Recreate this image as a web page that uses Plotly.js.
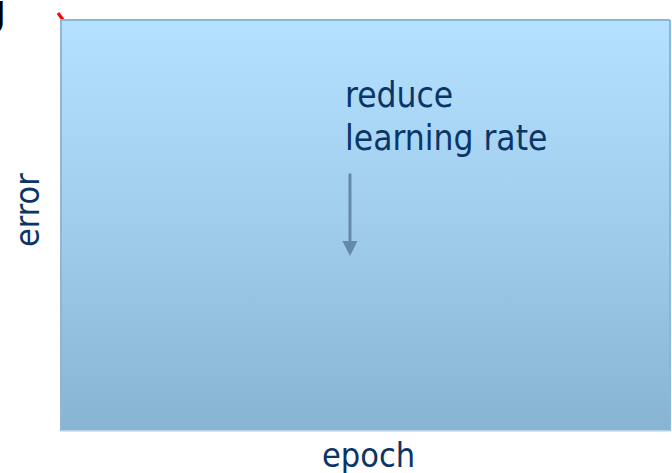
<!DOCTYPE html>
<html>
<head>
<meta charset="utf-8">
<script src="https://cdn.plot.ly/plotly-3.0.1.min.js"></script>
<style>html,body{margin:0;padding:0;background:#fff;}#chart{width:672px;height:473px;}</style>
</head>
<body>
<div id="chart"></div>
<script>
// Axis labels and annotation text
var xTitle = "epoch";
var yTitle = "error";
var noteLines = ["reduce", "learning rate"];
// Frame of the chart area (data units)
var frameX = [0, 10];
var frameY = [0, 10];
// Visible start of the (red) error curve, leaving the top of the frame
var curveX = [-0.05, 0.035];
var curveY = [10.17, 10.0];
// Arrow (data units): tail and head
var arrowX = [4.745, 4.745];
var arrowY = [6.3, 4.26];

var W = 672, H = 473;
// full-figure plotting area; the frame sits inside it
var pxPerX = 60.9, pxPerY = 41.1;
var frameLeftPx = 61, frameBottomPx = 431;

var grad = '<svg xmlns="http://www.w3.org/2000/svg" width="100" height="100" preserveAspectRatio="none">' +
  '<defs><linearGradient id="g" x1="0" y1="0" x2="0" y2="1">' +
  '<stop offset="0" stop-color="#b4e1fe"/><stop offset="0.5" stop-color="#a0cdec"/>' +
  '<stop offset="1" stop-color="#87b4d3"/></linearGradient></defs>' +
  '<rect width="100" height="100" fill="url(#g)"/></svg>';
var gradUri = 'data:image/svg+xml;charset=utf-8,' + encodeURIComponent(grad);

var traces = [{
  x: curveX, y: curveY, type: 'scatter', mode: 'lines',
  line: {color: '#ff0000', width: 3},
  hoverinfo: 'skip', showlegend: false
}];

var navy = '#0b3567';
var font = '"DejaVu Sans Condensed", "DejaVu Sans", sans-serif';
var borderCol = '#8db7d6';

var xr = [-frameLeftPx / pxPerX, (W - frameLeftPx) / pxPerX];
var yr = [-(H - frameBottomPx) / pxPerY, frameBottomPx / pxPerY];

var noteTops = [73, 116];
var noteAnns = noteLines.map(function (t, i) {
  return {text: t, xref: 'paper', yref: 'paper',
    x: 343 / W, y: 1 - noteTops[i] / H,
    xanchor: 'left', yanchor: 'top', align: 'left', showarrow: false,
    font: {family: font, size: 35, color: navy}};
});

var layout = {
  width: W, height: H,
  margin: {l: 0, r: 0, t: 0, b: 0, pad: 0},
  paper_bgcolor: '#ffffff',
  plot_bgcolor: '#ffffff',
  showlegend: false,
  xaxis: {range: xr, showgrid: false, zeroline: false, showticklabels: false, ticks: '', showline: false, fixedrange: true},
  yaxis: {range: yr, showgrid: false, zeroline: false, showticklabels: false, ticks: '', showline: false, fixedrange: true},
  images: [{
    source: gradUri, xref: 'x', yref: 'y', x: frameX[0], y: frameY[1],
    sizex: frameX[1] - frameX[0], sizey: frameY[1] - frameY[0],
    sizing: 'stretch', xanchor: 'left', yanchor: 'top', layer: 'below'
  }],
  shapes: [
    {type: 'line', xref: 'x', yref: 'y', x0: frameX[0], x1: frameX[1], y0: frameY[1], y1: frameY[1], line: {color: borderCol, width: 2}},
    {type: 'line', xref: 'x', yref: 'y', x0: frameX[0], x1: frameX[0], y0: frameY[0], y1: frameY[1], line: {color: borderCol, width: 2}},
    {type: 'line', xref: 'x', yref: 'y', x0: frameX[1], x1: frameX[1], y0: frameY[0], y1: frameY[1], line: {color: borderCol, width: 2}},
    {type: 'line', xref: 'x', yref: 'y', x0: frameX[0], x1: frameX[1], y0: frameY[0], y1: frameY[0], line: {color: '#c9dce9', width: 1.5}}
  ],
  annotations: noteAnns.concat([
    {x: arrowX[1], y: arrowY[1], ax: arrowX[0], ay: arrowY[0], axref: 'x', ayref: 'y', xref: 'x', yref: 'y',
     text: '', showarrow: true, arrowhead: 2, arrowsize: 1, arrowwidth: 3, arrowcolor: '#6589a8', standoff: 0},
    {text: xTitle, xref: 'paper', yref: 'paper',
     x: 368 / W, y: 1 - 455 / H,
     xanchor: 'center', yanchor: 'middle', showarrow: false,
     font: {family: font, size: 34, color: navy}},
    {text: yTitle, xref: 'paper', yref: 'paper', textangle: -90,
     x: 27 / W, y: 1 - 210 / H,
     xanchor: 'center', yanchor: 'middle', showarrow: false,
     font: {family: font, size: 34, color: navy}},
    {text: 'J', xref: 'paper', yref: 'paper',
     x: 8 / W, y: 1 + 11 / H,
     xanchor: 'right', yanchor: 'top', showarrow: false,
     font: {family: 'Arial, "Liberation Sans", sans-serif', size: 46, color: '#000000'}}
  ])
};

Plotly.newPlot('chart', traces, layout, {displayModeBar: false, staticPlot: true});
</script>
</body>
</html>
